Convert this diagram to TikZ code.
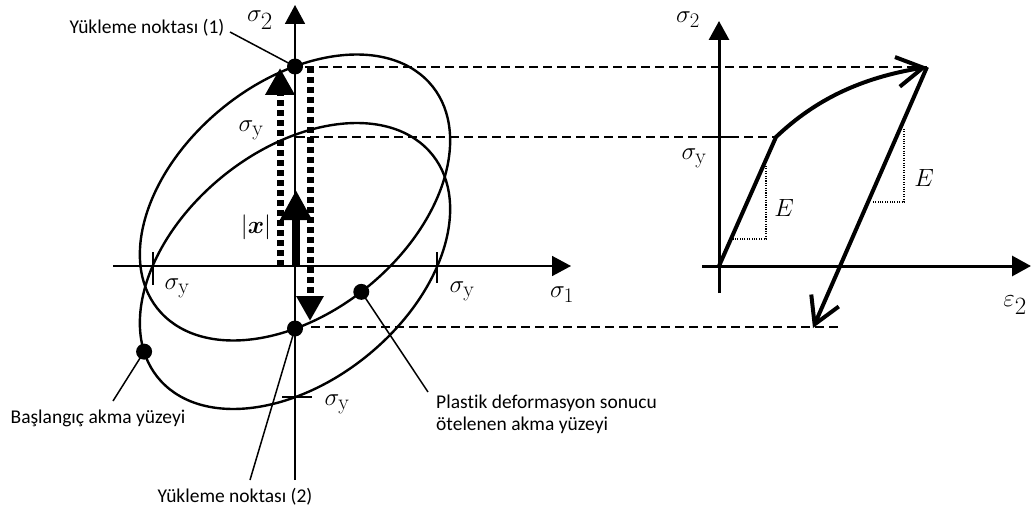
\documentclass[tikz,border=0pt]{standalone}
\usepackage{fontspec}
\usepackage{bm}
\newfontfamily\calib[Ligatures=NoCommon]{Carlito}
\usetikzlibrary{arrows.meta}
\begin{document}
\begin{tikzpicture}[x=1pt,y=1pt,
  lbl/.style={font=\calib\fontsize{19.5}{22}\selectfont, inner sep=0pt},
  gk/.style={font=\fontsize{31}{34}\selectfont, inner sep=0pt},
  dot/.style={circle, fill=black, minimum size=16pt, inner sep=0pt},
  ax/.style={line width=1.6pt},
  axr/.style={line width=3pt},
  axt/.style={-{Triangle[length=19pt,width=20pt]}},
  ell/.style={line width=2.4pt},
  dsh/.style={line width=1.8pt, dash pattern=on 9pt off 5pt},
  sq/.style={line width=7pt, dash pattern=on 6pt off 4pt},
  lead/.style={line width=1.5pt},
  crv/.style={line width=4pt, line join=round},
  barb/.style={-{Straight Barb[length=26pt,width=30pt]}},
  fine/.style={line width=1.1pt, dash pattern=on 1.1pt off 1.3pt},
  tick/.style={line width=1.8pt},
]
\useasboundingbox (0,0) rectangle (1032,-513);
% ---------- left diagram ----------
\coordinate (c0) at (295,-266);
\coordinate (c1) at (295,-197.5);
\coordinate (s1L) at (113,-266);
\coordinate (s1R) at (571,-266);
\coordinate (s2B) at (295,-480);
\coordinate (s2T) at (295,-5);
% yield surfaces
\draw[ell, shift={(c0)}, xscale=1.085, rotate=45] (0,0) ellipse [x radius=169pt, y radius=111pt];
\draw[ell, shift={(c1)}, xscale=1.085, rotate=45] (0,0) ellipse [x radius=169pt, y radius=111pt];
% axes
\draw[ax, axt] (s1L) -- (s1R);
\draw[ax, axt] (s2B) -- (s2T);
% ticks
\draw[tick] (153,-252) -- (153,-285);
\draw[tick] (437,-252) -- (437,-283);
\draw[tick] (282,-397) -- (312,-397);
% points on surfaces
\path[shift={(c0)}, xscale=1.085, rotate=45] (160.1:169pt and 111pt) coordinate (p0c);
\path[shift={(c1)}, xscale=1.085, rotate=45] (262:169pt and 111pt) coordinate (plc);
\coordinate (p1c) at (295,-66.5);
\coordinate (p2c) at (295,-328.5);
% dashed projection lines
\coordinate (Ptip) at (927,-67);
\coordinate (Ytip) at (776,-137);
\coordinate (Utip) at (813,-328);
\coordinate (d1) at (305,-67);
\coordinate (d2) at (296,-137);
\coordinate (d3) at (311,-327);
\coordinate (d3e) at (842,-327);
\draw[dsh] (d1) -- (Ptip);
\draw[dsh] (d2) -- (Ytip);
\draw[dsh] (d3) -- (d3e);
% dotted loading paths
\coordinate (q1s) at (280,-266);
\coordinate (q1e) at (280,-68);
\coordinate (q2s) at (310,-67);
\coordinate (q2e) at (310,-321);
\draw[sq, -{Triangle[length=27pt,width=28pt]}] (q1s) -- (q1e);
\draw[sq, -{Triangle[length=25pt,width=26pt]}] (q2s) -- (q2e);
% back stress arrow
\coordinate (xs) at (296,-266);
\coordinate (xe) at (296,-190);
\draw[line width=8pt, -{Triangle[length=30pt,width=30pt]}] (xs) -- (xe);
% dots
\node[dot] (p0) at (p0c) {};
\node[dot] (pl) at (plc) {};
\node[dot] (p1) at (p1c) {};
\node[dot] (p2) at (p2c) {};
% labels
\node[gk, font=\fontsize{35}{38}\selectfont] (ls2) at (260,-20) {$\sigma_2$};
\node[gk] (lsy1) at (251,-130) {$\sigma_{\mathrm{y}}$};
\node[gk] (lsy2) at (177,-288) {$\sigma_{\mathrm{y}}$};
\node[gk] (lsy3) at (462,-291) {$\sigma_{\mathrm{y}}$};
\node[gk] (lsy4) at (337,-404) {$\sigma_{\mathrm{y}}$};
\node[gk] (ls1) at (562,-295) {$\sigma_1$};
\node[gk, font=\fontsize{26}{28}\selectfont] (lx) at (256,-227) {$|\bm{x}|$};
% text labels and leaders
\node[lbl] (l1) at (147,-28) {Yükleme noktası (1)};
\node[lbl] (l0) at (98,-418) {Başlangıç akma yüzeyi};
\node[lbl] (l2) at (235,-497) {Yükleme noktası (2)};
\node[lbl, anchor=west, align=left] (lp) at (436,-414) {Plastik deformasyon sonucu\\ötelenen akma yüzeyi};
\coordinate (l1e) at (230,-32);
\coordinate (l0e) at (113,-401);
\coordinate (l2e) at (250,-480);
\coordinate (lpe) at (428,-392);
\draw[lead] (l1e) -- (p1.center);
\draw[lead] (l0e) -- (p0.center);
\draw[lead] (l2e) -- (p2.center);
\draw[lead] (lpe) -- (pl.center);
% ---------- right diagram ----------
\coordinate (o2) at (719,-266);
\coordinate (e2L) at (702,-266);
\coordinate (e2R) at (1031,-266);
\coordinate (t2B) at (719,-293);
\coordinate (t2T) at (719,-21);
\draw[axr, axt] (e2L) -- (e2R);
\draw[axr, axt] (t2B) -- (t2T);
\draw[tick] (706,-137) -- (730,-137);
\draw[crv, barb] (o2) -- (Ytip) .. controls (815,-100) and (860,-78) .. (Ptip);
\draw[crv, barb] (Ptip) -- (Utip);
% slope triangles
\draw[fine] (766,-166) -- (766,-239) -- (733,-239);
\draw[fine] (904,-129) -- (904,-202) -- (873,-202);
\node[gk] (rs2) at (688,-20) {$\sigma_2$};
\node[gk] (rsy) at (694,-158) {$\sigma_{\mathrm{y}}$};
\node[gk] (E1) at (784,-208) {$E$};
\node[gk] (E2) at (924,-178) {$E$};
\node[gk, font=\fontsize{33}{36}\selectfont] (le2) at (1015,-305) {$\varepsilon_2$};
\end{tikzpicture}
\end{document}
